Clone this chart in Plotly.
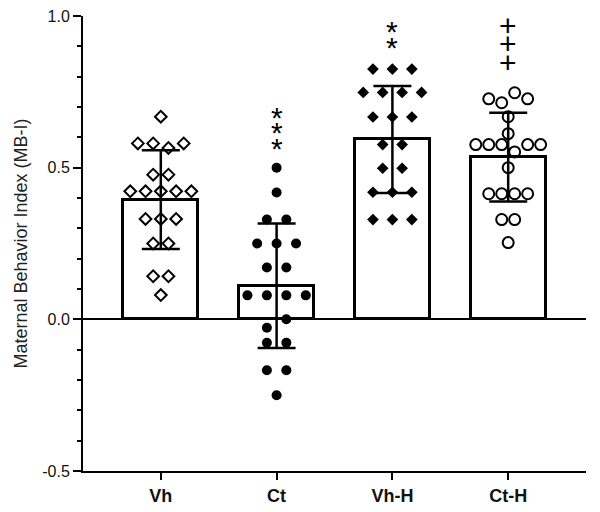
import numpy as np
import plotly.graph_objects as go

# groups on the x axis
groups = ["Vh", "Ct", "Vh-H", "Ct-H"]

# y tick labels (hyphen minus, as in the original figure)
y_ticks = [-0.5, 0.0, 0.5, 1.0]
y_tick_labels = ["-0.5", "0.0", "0.5", "1.0"]

# individual MB-I values per group (in swarm order)
vh = [0.668, 0.58, 0.58, 0.565, 0.58, 0.477, 0.477, 0.422, 0.422, 0.422,
      0.422, 0.422, 0.331, 0.331, 0.331, 0.25, 0.25, 0.142, 0.142, 0.08]
ct = [0.5, 0.418, 0.329, 0.329, 0.25, 0.25, 0.25, 0.171, 0.171, 0.079,
      0.079, 0.079, 0.079, -0.028, 0.0, -0.077, -0.077, -0.168, -0.168, -0.25]
vh_h = [0.825, 0.825, 0.825, 0.748, 0.748, 0.748, 0.748, 0.667, 0.667, 0.667,
        0.576, 0.576, 0.498, 0.498, 0.419, 0.419, 0.419, 0.329, 0.329, 0.329]
ct_h = [0.727, 0.714, 0.747, 0.727, 0.668, 0.612, 0.576, 0.576, 0.576, 0.552,
        0.576, 0.576, 0.5, 0.414, 0.414, 0.414, 0.414, 0.329, 0.329, 0.253]

# significance marks drawn above each group
sig_marks = ["", "***", "**", "+++"]

# styles
values = [vh, ct, vh_h, ct_h]
spacing = [0.132, 0.168, 0.168, 0.112]
symbols = ["diamond-open", "circle", "diamond", "circle-open"]
sizes = [9, 10, 9, 11]
sig_low = [None, 0.576, 0.911, 0.845]   # centre of the lowest mark
sig_step = {"*": 0.052, "+": 0.06}
FONT = "Liberation Sans, Arial, sans-serif"

# the page body has an 8px margin, so the figure sits 8px right/down
PAGE_PAD = 8


def swarm_offsets(vals, step, gap=0.03):
    """Bin near-equal values into rows, spread each row around the centre."""
    order = sorted(range(len(vals)), key=lambda i: -vals[i])
    rows = []
    for i in order:
        if rows and vals[rows[-1][-1]] - vals[i] <= gap:
            rows[-1].append(i)
        else:
            rows.append([i])
    offs = [0.0] * len(vals)
    for row in rows:
        row = sorted(row)
        n = len(row)
        for k, i in enumerate(row):
            offs[i] = (k - (n - 1) / 2) * step
    return offs


means = [float(np.mean(v)) for v in values]
sds = [float(np.std(v, ddof=1)) for v in values]

fig = go.Figure()
fig.add_trace(go.Bar(
    x=list(range(len(groups))), y=means, width=0.65,
    marker=dict(color="white", line=dict(color="black", width=3)),
    error_y=dict(type="data", array=sds, color="black", thickness=2.5, width=19),
    showlegend=False,
))

for i, vals in enumerate(values):
    offs = swarm_offsets(vals, spacing[i])
    open_sym = symbols[i].endswith("open")
    fig.add_trace(go.Scatter(
        x=[i + o for o in offs], y=vals, mode="markers", showlegend=False,
        marker=dict(symbol=symbols[i], size=sizes[i], color="black",
                    line=dict(color="black", width=2 if open_sym else 0)),
    ))

for i, marks in enumerate(sig_marks):
    for k, ch in enumerate(marks):
        fig.add_annotation(
            x=i, y=sig_low[i] + k * sig_step[ch], text=ch, showarrow=False,
            yanchor="middle", yshift=-4 if ch == "*" else 1,
            font=dict(family=FONT, size=30, color="black"),
        )

fig.update_layout(
    width=600, height=512,
    margin=dict(l=83 - PAGE_PAD, r=14 + PAGE_PAD, t=16 - PAGE_PAD, b=41 + PAGE_PAD),
    plot_bgcolor="white", paper_bgcolor="white",
    font=dict(family=FONT, color="#222"),
    bargap=0,
)
fig.update_xaxes(
    range=[-0.672, 3.672], tickvals=list(range(len(groups))), ticktext=groups,
    showline=True, linecolor="black", linewidth=2, showgrid=False, zeroline=False,
    ticks="outside", ticklen=7, tickwidth=2, tickcolor="black", automargin=False,
    tickfont=dict(size=18, weight="bold", color="#111"),
)
fig.update_yaxes(
    range=[-0.5, 1.0], tickvals=y_ticks, ticktext=y_tick_labels, automargin=False,
    ticklabeloverflow="allow",
    showline=True, linecolor="black", linewidth=2, showgrid=False,
    zeroline=True, zerolinecolor="black", zerolinewidth=2,
    ticks="outside", ticklen=8, tickwidth=2, tickcolor="black",
    minor=dict(dtick=0.1, ticks="outside", ticklen=4, tickwidth=1.5, tickcolor="black"),
    tickfont=dict(size=16, color="#111"),
    title=dict(text="Maternal Behavior Index (MB-I)", font=dict(size=18, color="#222"), standoff=10),
)

fig.write_html("out.html")
